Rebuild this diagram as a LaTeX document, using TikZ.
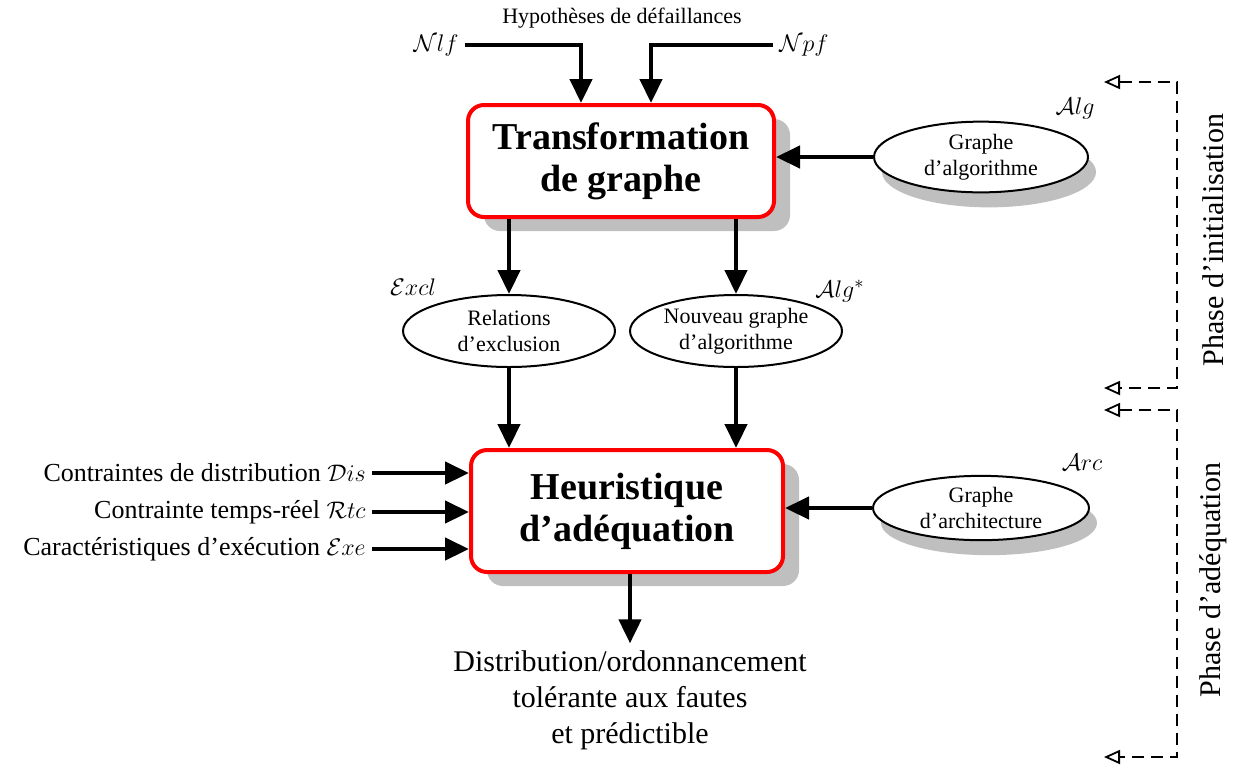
\documentclass[tikz,border=0pt]{standalone}
\usepackage{amsmath, amssymb}
\usepackage{fontspec}
\setmainfont{Liberation Serif}
\usepackage{tikz}
\usetikzlibrary{positioning,arrows.meta,shapes.geometric,shadows}

\begin{document}
\begin{tikzpicture}[x=0.5pt, y=-0.5pt, >=Stealth,
		bloc/.style={draw=red, line width=2pt, rounded corners=8pt, fill=white, align=center,
			font=\fontsize{19}{21}\selectfont\bfseries,
			drop shadow={shadow xshift=8pt, shadow yshift=-7pt, fill=black!25, opacity=1}},
		donnee/.style={ellipse, draw, line width=1pt, fill=white, align=center, inner sep=1pt,
			font=\fontsize{11}{13}\selectfont},
		ombre/.style={drop shadow={shadow xshift=4pt, shadow yshift=-7.5pt, fill=black!25, opacity=1}},
		lbl/.style={font=\fontsize{13}{15}\selectfont, inner sep=3pt},
		fl/.style={-{Triangle[length=12pt,width=11pt]}, line width=2.2pt},
		phase/.style={{Triangle[open,length=8pt,width=7pt]}-{Triangle[open,length=8pt,width=7pt]},
			line width=0.9pt, dash pattern=on 6pt off 3.5pt}]
	\useasboundingbox (0,0) rectangle (1234,767);

	\node[bloc, minimum width=153pt, minimum height=56pt] (trans) at (621,161) {Transformation\\de graphe};
	\node[bloc, minimum width=156pt, minimum height=61pt] (heur) at (627,511) {Heuristique\\d'adéquation};

	\node[donnee, ombre, minimum width=107pt, minimum height=30pt] (galg) at (981,157) {Graphe\\d'algorithme};
	\node[donnee, ombre, minimum width=108pt, minimum height=31pt] (garc) at (981,508) {Graphe\\d'architecture};
	\node[donnee, minimum width=106pt, minimum height=36pt] (rel) at (509,331) {Relations\\d'exclusion};
	\node[donnee, minimum width=106pt, minimum height=36pt] (nalg) at (736,331) {Nouveau graphe\\d'algorithme};

	\node[font=\fontsize{11}{13}\selectfont] (hyp) at (622,18) {Hypothèses de défaillances};
	\node[lbl] (nlf) at (436,45) {$\mathcal{N}lf$};
	\node[lbl] (npf) at (804,45) {$\mathcal{N}pf$};
	\node[lbl] (lalg) at (1075,108) {$\mathcal{A}lg$};
	\node[lbl] (lexcl) at (413,287) {$\mathcal{E}xcl$};
	\node[lbl] (lalgs) at (840,291) {$\mathcal{A}lg^*$};
	\node[lbl] (larc) at (1082,462) {$\mathcal{A}rc$};

	\node[lbl, anchor=east] (cdis) at (372,473) {Contraintes de distribution $\mathcal{D}is$};
	\node[lbl, anchor=east] (crtc) at (372,512) {Contrainte temps-réel $\mathcal{R}tc$};
	\node[lbl, anchor=east] (cexe) at (372,549) {Caractéristiques d'exécution $\mathcal{E}xe$};

	\node[align=center, font=\fontsize{15}{18}\selectfont] (res) at (630,700)
		{Distribution/ordonnancement\\tolérante aux fautes\\et prédictible};

	\node[rotate=90, font=\fontsize{15}{18}\selectfont] (pinit) at (1213,240) {Phase d'initialisation};
	\node[rotate=90, font=\fontsize{15}{18}\selectfont] (padeq) at (1213,580) {Phase d'adéquation};

	% entrees
	\draw[fl] (nlf.east) -| ([xshift=-20pt]trans.north);
	\draw[fl] (npf.west) -| ([xshift=15pt]trans.north);
	\draw[fl] (galg.west) -- (galg.west -| trans.east);
	\draw[fl] (rel.north |- trans.south) -- (rel.north);
	\draw[fl] (nalg.north |- trans.south) -- (nalg.north);
	\draw[fl] (rel.south) -- (rel.south |- heur.north);
	\draw[fl] (nalg.south) -- (nalg.south |- heur.north);
	\draw[fl] (cdis.east) -- (cdis.east -| heur.west);
	\draw[fl] (crtc.east) -- (crtc.east -| heur.west);
	\draw[fl] (cexe.east) -- (cexe.east -| heur.west);
	\draw[fl] (garc.west) -- (garc.west -| heur.east);
	\draw[fl] (res.north |- heur.south) -- (res.north);

	% phases
	\coordinate (i1) at (1104,82);
	\coordinate (i2) at (1104,388);
	\coordinate (a1) at (1104,410);
	\coordinate (a2) at (1104,757);
	\draw[phase] (i1) -- ++(73,0) |- (i2);
	\draw[phase] (a1) -- ++(73,0) |- (a2);
\end{tikzpicture}
\end{document}
